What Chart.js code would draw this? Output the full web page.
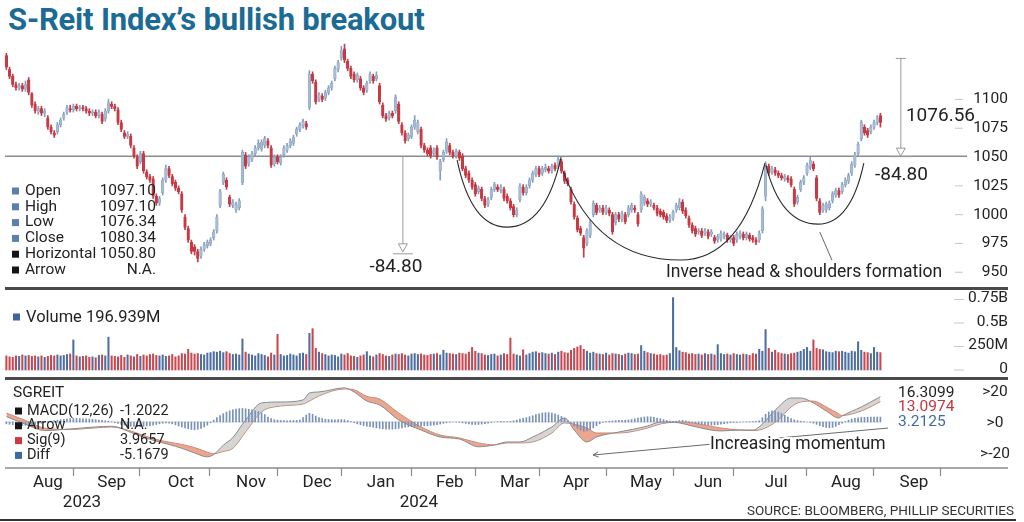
<!DOCTYPE html>
<html>
<head>
<meta charset="utf-8">
<title>S-Reit Index's bullish breakout</title>
<script src="https://cdn.jsdelivr.net/npm/chart.js@4.4.1/dist/chart.umd.min.js"></script>
<style>
  html, body { margin: 0; padding: 0; background: #fff; }
  body { width: 1024px; height: 522px; position: relative; overflow: hidden; font-family: Roboto, "Noto Sans", sans-serif; }
  canvas { position: absolute; left: 0; top: 0; }
  #title { position: absolute; left: 8px; top: 1px; font-weight: 700; font-size: 31px; color: #1b6b95; letter-spacing: -0.2px; white-space: nowrap; }
  #source { position: absolute; right: 10px; top: 502px; font-size: 13.5px; color: #333; white-space: nowrap; }
  .rule { position: absolute; left: 5px; width: 1003px; background: #4a4a4a; }
</style>
</head>
<body>
<div id="title">S-Reit Index’s bullish breakout</div>
<canvas id="priceChart" width="1024" height="522"></canvas>
<canvas id="volumeChart" width="1024" height="522"></canvas>
<canvas id="macdChart" width="1024" height="522"></canvas>
<div class="rule" style="top:287px;height:3px"></div>
<div class="rule" style="top:377px;height:3px"></div>
<div class="rule" style="top:519px;height:2px;left:0;width:1016px;background:#333"></div>
<div id="source">SOURCE: BLOOMBERG, PHILLIP SECURITIES</div>
<script>
// daily candles, trading day 0 = 1 Aug 2023
const opens = [
  1138,1126,1120,1113,1110,1112,1109,1117,1105,1096,
  1089,1092,1088,1084,1076,1071,1072,1078,1084,1089,
  1092,1091,1094,1092,1093,1092,1090,1088,1089,1086,
  1087,1083,1090,1096,1094,1091,1080,1071,1068,1068,
  1058,1050,1046,1053,1037,1033,1031,1016,1010,1019,
  1030,1040,1033,1028,1023,1018,998,988,976,972,
  968,964,970,973,975,980,986,1008,1028,1030,
  1015,1008,1004,1006,1028,1052,1044,1048,1053,1058,
  1057,1060,1064,1058,1044,1050,1045,1052,1056,1060,
  1062,1070,1074,1077,1079,1093,1122,1115,1100,1103,
  1101,1106,1110,1118,1126,1136,1144,1133,1127,1122,
  1117,1118,1110,1108,1116,1120,1118,1112,1095,1086,
  1084,1088,1090,1096,1078,1071,1066,1068,1076,1072,
  1074,1060,1056,1058,1053,1058,1038,1048,1055,1060,
  1054,1051,1054,1051,1040,1036,1030,1026,1020,1022,
  1014,1009,1015,1022,1024,1021,1022,1016,1012,1007,
  1000,1013,1024,1019,1025,1030,1035,1040,1036,1039,
  1040,1038,1043,1042,1046,1036,1030,1022,1009,997,
  988,980,975,982,1000,1008,1004,1006,1002,1004,
  1000,993,1000,996,1000,1000,1004,1006,1000,1004,
  1010,1012,1009,1008,1006,1003,1002,999,995,997,
  1004,1006,1011,1004,997,991,988,985,986,984,
  985,983,980,978,979,981,982,978,980,978,
  981,983,980,982,980,978,978,986,1016,1042,
  1037,1039,1036,1034,1031,1032,1031,1022,1011,1022,
  1028,1036,1041,1044,1032,1012,1004,1004,1006,1012,
  1017,1021,1020,1026,1029,1036,1043,1053,1066,1076,
  1073,1072,1076,1080,1086
];
const highs = [
  1140,1128,1122,1115,1114,1114,1116,1119,1106,1098,
  1094,1094,1092,1086,1078,1073,1080,1084,1089,1095,
  1095,1096,1096,1095,1095,1094,1092,1091,1091,1091,
  1089,1092,1100,1098,1096,1093,1082,1073,1072,1070,
  1060,1052,1055,1055,1039,1035,1033,1018,1016,1032,
  1043,1042,1035,1030,1025,1020,1000,990,978,974,
  970,972,976,978,980,987,1000,1022,1037,1032,
  1017,1013,1011,1014,1056,1054,1052,1055,1060,1065,
  1065,1068,1066,1060,1052,1052,1052,1060,1062,1066,
  1069,1076,1080,1083,1081,1125,1124,1117,1106,1105,
  1108,1112,1116,1129,1134,1146,1148,1135,1129,1124,
  1123,1120,1112,1116,1124,1122,1124,1114,1097,1088,
  1090,1090,1104,1098,1080,1073,1071,1078,1086,1082,
  1076,1062,1058,1060,1058,1060,1048,1056,1066,1062,
  1056,1057,1056,1053,1042,1038,1032,1028,1025,1024,
  1016,1015,1024,1028,1026,1026,1024,1018,1014,1009,
  1006,1027,1026,1026,1032,1038,1042,1042,1042,1044,
  1042,1044,1045,1051,1048,1038,1032,1024,1011,999,
  990,982,988,995,1012,1010,1008,1008,1008,1006,
  1002,1002,1002,1003,1002,1008,1010,1008,1002,1020,
  1017,1014,1013,1010,1008,1005,1004,1001,1000,1004,
  1010,1014,1013,1006,999,993,990,988,988,988,
  987,987,982,983,986,985,984,982,982,985,
  986,985,985,984,982,980,986,1007,1046,1044,
  1042,1041,1038,1036,1035,1034,1033,1024,1017,1030,
  1034,1045,1050,1046,1034,1014,1010,1011,1012,1020,
  1023,1023,1028,1032,1036,1046,1054,1063,1082,1078,
  1075,1078,1082,1086,1088
];
const lows = [
  1126,1118,1111,1108,1108,1107,1107,1104,1093,1088,
  1087,1086,1085,1074,1070,1067,1070,1076,1082,1087,
  1089,1089,1090,1090,1090,1088,1086,1086,1084,1084,
  1079,1081,1088,1092,1090,1078,1072,1066,1066,1058,
  1049,1040,1044,1036,1031,1028,1014,1008,1008,1017,
  1028,1032,1025,1021,1018,1002,987,976,966,965,
  959,962,968,971,973,978,984,1006,1026,1022,
  1007,1006,1002,1004,1026,1040,1042,1046,1051,1056,
  1055,1058,1058,1041,1042,1044,1043,1050,1054,1058,
  1060,1068,1072,1075,1074,1091,1114,1096,1098,1098,
  1099,1104,1108,1116,1124,1134,1132,1125,1118,1115,
  1115,1108,1104,1106,1114,1114,1116,1096,1084,1081,
  1082,1084,1088,1079,1069,1062,1064,1066,1074,1070,
  1058,1054,1051,1049,1051,1048,1030,1046,1053,1052,
  1049,1049,1047,1038,1032,1028,1022,1016,1018,1012,
  1006,1007,1013,1020,1020,1019,1012,1010,1004,998,
  998,1011,1017,1017,1023,1028,1033,1033,1034,1037,
  1036,1036,1038,1040,1036,1027,1025,1009,996,985,
  982,963,973,980,998,1000,1002,1000,1000,999,
  983,991,994,994,992,998,1002,1002,990,1002,
  1008,1007,1007,1004,999,998,996,993,993,995,
  1002,1004,1001,997,989,984,981,983,980,982,
  979,981,975,976,977,979,976,976,973,976,
  979,978,978,977,976,974,976,984,1012,1034,
  1035,1034,1032,1030,1029,1028,1024,1007,1009,1020,
  1026,1034,1039,1038,1012,1000,1002,1002,1004,1010,
  1015,1015,1018,1024,1027,1034,1041,1051,1064,1069,
  1067,1070,1074,1078,1076
];
const closes = [
  1128,1120,1113,1110,1112,1109,1113,1106,1095,1090,
  1092,1088,1090,1076,1072,1069,1078,1082,1087,1093,
  1091,1094,1092,1093,1092,1090,1088,1089,1086,1089,
  1081,1090,1097,1094,1092,1080,1074,1068,1070,1060,
  1051,1042,1053,1038,1033,1030,1016,1010,1014,1030,
  1040,1034,1027,1023,1020,1004,989,978,968,968,
  962,970,974,976,978,985,998,1020,1035,1024,
  1009,1011,1009,1012,1054,1042,1050,1053,1058,1062,
  1063,1066,1060,1043,1050,1046,1050,1058,1060,1064,
  1067,1074,1078,1081,1076,1122,1116,1098,1104,1100,
  1106,1110,1114,1127,1132,1142,1134,1127,1120,1117,
  1121,1110,1106,1114,1122,1116,1121,1098,1086,1083,
  1088,1086,1102,1081,1071,1064,1069,1076,1082,1080,
  1060,1056,1053,1051,1056,1050,1046,1054,1063,1054,
  1051,1055,1049,1040,1034,1030,1024,1018,1023,1014,
  1008,1013,1022,1026,1022,1024,1014,1012,1006,1000,
  1004,1025,1019,1024,1030,1036,1040,1035,1040,1041,
  1038,1042,1040,1048,1038,1029,1027,1011,998,987,
  984,971,986,993,1010,1002,1006,1002,1006,1001,
  985,1000,996,1001,994,1006,1008,1004,992,1018,
  1015,1009,1011,1006,1001,1000,998,995,998,1002,
  1008,1011,1003,999,991,986,983,986,982,986,
  981,985,977,981,984,983,978,980,975,983,
  984,980,983,979,978,976,984,1005,1044,1036,
  1040,1036,1034,1032,1033,1030,1026,1009,1015,1028,
  1032,1043,1047,1040,1014,1002,1008,1009,1010,1018,
  1021,1017,1026,1030,1034,1044,1052,1061,1080,1071,
  1069,1076,1080,1084,1080
];
// volume, millions of units
const volumes = [
  150,140,135,150,145,160,150,155,145,150,
  140,150,135,145,155,150,160,150,155,165,
  170,320,150,140,145,150,135,140,130,155,
  160,150,350,150,145,140,155,135,160,150,
  140,165,145,160,150,165,170,155,150,160,
  145,150,165,140,150,175,170,220,180,170,
  175,165,160,180,185,195,190,200,185,195,
  175,165,170,160,330,190,170,160,150,175,
  165,155,140,180,160,380,165,150,155,170,
  160,150,175,180,165,390,440,230,190,175,
  165,150,160,155,140,170,160,175,150,145,
  135,150,160,195,150,140,160,175,165,150,
  145,160,170,165,175,160,150,170,175,165,
  170,160,155,165,170,175,160,210,180,175,
  170,165,180,175,170,190,240,200,180,175,
  160,155,165,170,150,160,175,165,340,170,
  160,150,215,160,175,190,195,180,185,175,
  170,180,165,190,200,185,180,210,230,245,
  260,220,200,180,190,175,170,165,180,160,
  175,170,165,155,170,180,175,165,170,260,
  200,185,175,170,160,165,155,160,175,770,
  240,205,190,185,170,175,165,170,160,175,
  165,170,160,270,175,165,170,160,175,165,
  160,170,165,155,175,170,220,200,430,230,
  190,210,185,175,170,165,175,180,190,200,
  220,240,200,320,230,220,215,195,190,185,
  200,195,200,190,180,200,195,300,210,190,
  185,175,240,190,185
];
// MACD(12,26) and Sig(9), read at these trading days
const macdDays = [0,6,12,20,28,33,40,46,51,55,59,63,65,68,71,75,80,86,93,95,98,106,109,113,117,123,130,136,142,148,153,157,161,165,171,175,178,182,185,192,201,205,211,215,224,230,234,236,242,246,249,253,257,261,262,268,274];
const macdLine = [3.5,-1.5,-5.5,-4.5,-3.2,-2.8,-7.5,-11.8,-14.5,-17,-20,-22.5,-21,-15,-10,1.3,12.3,12.9,14.2,18.7,19.4,22,19.4,13.5,11,1.3,-5.2,-9.7,-11,-16,-14.8,-12.9,-12.9,-9.7,-3.2,2.6,-5.2,-12.9,-9.7,-6.5,-2.6,0,-0.6,-2.6,-5.8,-5.2,-5.2,-3.2,9.7,15.5,15.5,12.3,7.1,2.6,3.9,9.7,16.3];
const signalLine = [5.8,1,-4,-4.8,-3.8,-3.2,-6.5,-10.8,-13,-14.5,-16.5,-19.5,-20.5,-19,-17,-6.5,6.5,10.3,11.6,13.5,16.8,21.3,20.8,16.5,14.8,5.8,-3.2,-8.4,-10.3,-13.5,-14.8,-13.5,-13.5,-12.9,-7.1,-0.6,-1.3,-3.9,-7.1,-7.1,-3.9,-1.3,0,-0.6,-3.9,-5.2,-5.5,-5.2,1.3,9.7,12.9,13.5,9.7,5.2,4.2,7.1,13.1];
// daily Diff histogram
const diffHist = [
  -1.2,-1.5,-1.8,-2,-2.2,-2.3,-2.2,-2,-1.8,-1.6,-1.2,-0.8,
  -0.3,0.2,0.6,0.9,1.2,1.5,1.7,
  1.9,2.1,2.2,2.3,2.2,2.1,2,1.9,1.7,1.5,1.3,1,0.8,0.5,
  0.1,-0.4,-0.9,-1.5,-2,-2.4,-2.7,-2.9,-3,-3,-2.8,-2.6,-2.3,-2,-1.6,-1.2,
  -0.8,-0.6,-0.8,-1.2,-1.8,
  -2.6,-3.2,-3.8,-4.4,-4.8,-5,-4.7,-4.1,-3.2,-2,
  -0.5,1.2,2.8,4.2,5.4,6.4,7.2,7.8,8.3,8.6,8.7,8.5,8.2,7.8,7.3,6.7,6,4.8,3.2,
  2.2,1.5,1.2,1,0.9,0.8,0.9,1,1.1,1.3,
  2.8,4.5,5.6,5,3.8,
  2.8,2.2,1.8,1.6,1.5,1.4,1.5,1.6,1.4,0.9,
  0.2,-0.5,-1.2,-1.8,-2.3,-2.7,-3.1,-3.4,-3.8,-4.1,-4.4,-4.6,-4.7,-4.6,-4.4,-4.1,-3.8,-3.4,-3.1,
  -2.9,-2.8,-2.7,-2.6,-2.5,-2.4,-2.2,-2,-1.7,-1.3,-0.9,-0.5,
  -0.2,0,-0.1,-0.3,-0.6,
  -0.9,-1.2,-1.5,-1.6,-1.6,-1.4,-1.1,-0.7,-0.3,
  0,0.2,0.4,0.3,0.2,0.4,0.8,1.2,
  1.8,2.3,2.8,3.4,4,4.7,5.3,
  5.8,6,6.1,5.8,5.2,4.5,3.6,2.4,0.8,
  -1,-2.6,-4,-5.2,-6,-5.8,-5,-3.8,-2.4,-1.2,
  -0.3,0.2,0.5,0.7,0.9,1,1,1.1,1.3,
  1.6,2,2.5,2.9,3.2,3.4,3.3,3,2.6,2.1,1.5,1,
  0.6,0.4,0.6,0.9,1,0.7,0.2,
  -0.4,-0.9,-1.3,-1.6,-1.8,-1.9,-2,-1.9,-1.7,-1.4,-1.1,-0.8,
  -0.5,-0.3,-0.2,-0.1,0,0.1,0.2,0.3,0.4,0.8,
  2.8,5,6.5,7.2,7,6.4,5.5,4.4,3.2,
  2.2,1.4,0.9,0.5,0.2,0,-0.3,
  -0.8,-1.5,-2.3,-3,-3.5,-3.7,-3.5,-2.8,-1.8,-0.8,
  0.3,1.2,1.9,2.4,2.7,2.9,3,3.1,3.1,3.2,3.2,3.2
];

const priceTicks = [950, 975, 1000, 1025, 1050, 1075, 1100];
const volumeTicks = [0, 250, 500, 750];
const volumeTickLabels = ['0', '250M', '0.5B', '0.75B'];
const macdLevels = [20, 0, -20];
const macdLevelLabels = ['>20', '>0', '>-20'];
const monthBounds = [20.9, 41.6, 63.5, 84.8, 104.9, 126.8, 146.9, 167, 188, 209, 227.8, 250.7, 271.7, 292.7];
const monthNames = ['Aug', 'Sep', 'Oct', 'Nov', 'Dec', 'Jan', 'Feb', 'Mar', 'Apr', 'May', 'Jun', 'Jul', 'Aug', 'Sep'];
const monthMids = [13, 33, 54.7, 76.7, 97.4, 117.4, 139, 159.4, 178.6, 200.5, 220, 241.3, 263.2, 284.5];
const yearNames = ['2023', '2024'];
const yearMids = [23.7, 129.3];

const breakout = 1050.80;
const patternDepth = 84.80;
const priceLegend = ['Open', 'High', 'Low', 'Close', 'Horizontal', 'Arrow'];
const priceLegendValues = ['1097.10', '1097.10', '1076.34', '1080.34', '1050.80', 'N.A.'];
const macdLegend = ['MACD(12,26)', 'Arrow', 'Sig(9)', 'Diff'];
const macdLegendValues = ['-1.2022', 'N.A.', '3.9657', '-5.1679'];
const macdLast = ['16.3099', '13.0974', '3.2125'];

const UP = '#a7bcd2', UP_WICK = '#849fbe', DOWN = '#c63a44';
const VOL_UP = '#4d6fa0', VOL_DOWN = '#c9474e';
const FONT = 'Roboto, "Noto Sans", sans-serif';
const isUp = i => closes[i] >= opens[i];

function label(ctx, s, x, y, size, color, align) {
  ctx.font = size + 'px ' + FONT;
  ctx.fillStyle = color || '#222';
  ctx.textAlign = align || 'left';
  ctx.textBaseline = 'middle';
  ctx.fillText(s, x, y);
}

function square(ctx, x, y, color) {
  ctx.fillStyle = color;
  ctx.fillRect(x, y - 3.5, 7, 7);
}

// open triangle arrowhead pointing down
function downArrow(ctx, px, yTop, yBot) {
  ctx.beginPath();
  ctx.moveTo(px, yTop);
  ctx.lineTo(px, yBot - 8);
  ctx.stroke();
  ctx.beginPath();
  ctx.moveTo(px - 4.5, yBot - 8);
  ctx.lineTo(px + 4.5, yBot - 8);
  ctx.lineTo(px, yBot);
  ctx.closePath();
  ctx.fillStyle = '#fff';
  ctx.fill();
  ctx.stroke();
}

function uCurve(ctx, p0, b, p2) {
  ctx.beginPath();
  ctx.moveTo(p0.x, p0.y);
  ctx.bezierCurveTo(p0.x + (b.x - p0.x) * 0.2, p0.y + (b.y - p0.y) * 0.7, b.x - (b.x - p0.x) * 0.45, b.y, b.x, b.y);
  ctx.bezierCurveTo(b.x + (p2.x - b.x) * 0.45, b.y, p2.x - (p2.x - b.x) * 0.2, p2.y + (b.y - p2.y) * 0.7, p2.x, p2.y);
  ctx.stroke();
}

// inverse head & shoulders outline: start, bottom, end (trading day, price)
const hsArcs = [
  [[141.3, 1047.4], [156.9, 989.2], [173.9, 1050]],
  [[174.5, 1037.8], [211.2, 960.6], [237.8, 1044.8]],
  [[238.1, 1043.0], [254.4, 991.8], [268.8, 1044.8]]
];

const xAxis = { type: 'linear', min: -2, max: 314, offset: false, display: false };
const common = {
  responsive: false,
  animation: false,
  events: [],
  plugins: { legend: { display: false }, tooltip: { enabled: false } }
};

const priceExtras = {
  id: 'priceExtras',
  beforeDatasetsDraw(chart) {
    const { ctx, scales: { y } } = chart;
    const yb = y.getPixelForValue(breakout);
    ctx.save();
    ctx.strokeStyle = '#8c8c8c';
    ctx.lineWidth = 1.5;
    ctx.beginPath();
    ctx.moveTo(5, yb);
    ctx.lineTo(967, yb);
    ctx.stroke();
    ctx.restore();
  },
  afterDatasetsDraw(chart) {
    const { ctx, scales: { x, y } } = chart;
    const right = chart.chartArea.right;
    ctx.save();

    priceTicks.forEach(v => {
      const py = y.getPixelForValue(v);
      if (v !== 1050) {
        ctx.strokeStyle = '#c8c8c8';
        ctx.lineWidth = 1;
        ctx.beginPath();
        ctx.moveTo(955, py);
        ctx.lineTo(963, py);
        ctx.stroke();
      }
      label(ctx, String(v), right, py, 15.5, '#222', 'right');
    });

    // pattern outline
    ctx.strokeStyle = '#2a2a2a';
    ctx.lineWidth = 1.1;
    hsArcs.forEach(a => {
      const p = a.map(([d, v]) => ({ x: x.getPixelForValue(d), y: y.getPixelForValue(v) }));
      uCurve(ctx, p[0], p[1], p[2]);
    });

    // measured move arrows
    ctx.strokeStyle = '#9a9a9a';
    ctx.lineWidth = 1;
    const yb = y.getPixelForValue(breakout);
    const xl = x.getPixelForValue(124.3);
    const ylow = y.getPixelForValue(breakout - patternDepth);
    downArrow(ctx, xl, yb, ylow - 2);
    ctx.beginPath();
    ctx.moveTo(xl - 10, ylow);
    ctx.lineTo(xl + 10, ylow);
    ctx.stroke();
    label(ctx, '-' + patternDepth.toFixed(2), x.getPixelForValue(122.1), y.getPixelForValue(954.5), 19, '#222', 'center');

    const xr = x.getPixelForValue(280.4);
    const ytop = y.getPixelForValue(breakout + patternDepth);
    ctx.beginPath();
    ctx.moveTo(xr - 5, ytop);
    ctx.lineTo(xr + 5, ytop);
    ctx.stroke();
    downArrow(ctx, xr, ytop, yb);
    ctx.beginPath();
    ctx.moveTo(xr - 11, yb + 0.5);
    ctx.lineTo(xr + 11, yb + 0.5);
    ctx.stroke();
    label(ctx, '1076.56', x.getPixelForValue(282), y.getPixelForValue(1085.6), 19, '#222', 'left');
    label(ctx, '-' + patternDepth.toFixed(2), x.getPixelForValue(272.3), y.getPixelForValue(1034.4), 19, '#222', 'left');

    // pattern caption and pointer
    ctx.strokeStyle = '#666';
    ctx.beginPath();
    ctx.moveTo(x.getPixelForValue(258.8), y.getPixelForValue(960.6));
    ctx.lineTo(x.getPixelForValue(255), y.getPixelForValue(984.9));
    ctx.stroke();
    label(ctx, 'Inverse head & shoulders formation', x.getPixelForValue(206.8), y.getPixelForValue(949.3), 17.5, '#222', 'left');

    // legend
    priceLegend.forEach((name, k) => {
      const ly = 191 + k * 15.8;
      square(ctx, 12, ly, k < 4 ? '#5b80ad' : '#151515');
      label(ctx, name, 25, ly, 15.5, '#222', 'left');
      label(ctx, priceLegendValues[k], 156, ly, 15.5, '#222', 'right');
    });
    ctx.restore();
  }
};

new Chart(document.getElementById('priceChart'), {
  type: 'bar',
  data: {
    datasets: [
      {
        label: 'High-Low',
        data: opens.map((_, i) => ({ x: i, y: [lows[i], highs[i]] })),
        backgroundColor: c => isUp(c.dataIndex) ? UP_WICK : DOWN,
        barThickness: 1,
        grouped: false,
        order: 2
      },
      {
        label: 'Open-Close',
        data: opens.map((o, i) => ({ x: i, y: [o, closes[i]] })),
        backgroundColor: c => isUp(c.dataIndex) ? UP : DOWN,
        borderColor: c => isUp(c.dataIndex) ? UP_WICK : DOWN,
        borderWidth: 0.5,
        borderSkipped: false,
        barThickness: 2.6,
        minBarLength: 1,
        grouped: false,
        order: 1
      }
    ]
  },
  options: {
    ...common,
    layout: { padding: { left: 0, right: 16, top: 40, bottom: 235 } },
    scales: {
      x: xAxis,
      y: { type: 'linear', min: 937.2, max: 1151.6, display: false }
    }
  },
  plugins: [priceExtras]
});

const volumeExtras = {
  id: 'volumeExtras',
  afterDatasetsDraw(chart) {
    const { ctx, scales: { y } } = chart;
    const right = chart.chartArea.right;
    ctx.save();
    volumeTicks.forEach((v, k) => {
      const py = y.getPixelForValue(v);
      ctx.strokeStyle = '#c8c8c8';
      ctx.lineWidth = 1;
      ctx.beginPath();
      ctx.moveTo(954, py);
      ctx.lineTo(964, py);
      ctx.stroke();
      label(ctx, volumeTickLabels[k], right, py - 1, 15.5, '#222', 'right');
    });
    square(ctx, 13, 317, '#3f64a0');
    label(ctx, 'Volume 196.939M', 26, 318, 16.5, '#222', 'left');
    ctx.restore();
  }
};

new Chart(document.getElementById('volumeChart'), {
  type: 'bar',
  data: {
    datasets: [{
      label: 'Volume',
      data: volumes.map((v, i) => ({ x: i, y: v })),
      backgroundColor: c => isUp(c.dataIndex) ? VOL_UP : VOL_DOWN,
      barThickness: 1.4
    }]
  },
  options: {
    ...common,
    layout: { padding: { left: 0, right: 16, top: 290, bottom: 145 } },
    scales: {
      x: xAxis,
      y: { type: 'linear', min: -74.5, max: 851, display: false }
    }
  },
  plugins: [volumeExtras]
});

const macdExtras = {
  id: 'macdExtras',
  beforeDatasetsDraw(chart) {
    const { ctx, scales: { y } } = chart;
    const y0 = y.getPixelForValue(0);
    ctx.save();
    ctx.strokeStyle = '#dadada';
    ctx.lineWidth = 1;
    ctx.beginPath();
    ctx.moveTo(5, y0);
    ctx.lineTo(880, y0);
    ctx.stroke();
    ctx.restore();
  },
  afterDatasetsDraw(chart) {
    const { ctx, scales: { x, y } } = chart;
    const area = chart.chartArea;
    ctx.save();

    // legend
    label(ctx, 'SGREIT', 13, 393, 15.5, '#222', 'left');
    const sq = ['#151515', '#151515', '#d0393f', '#3a69a8'];
    macdLegend.forEach((name, k) => {
      const ly = 411 + k * 14.8;
      square(ctx, 15, ly, sq[k]);
      label(ctx, name, 27, ly, 14.5, '#222', 'left');
      label(ctx, macdLegendValues[k], 120, ly, 14.5, '#222', 'left');
    });

    // last values
    const lastCol = ['#222', '#c0363f', '#3f6aa5'];
    macdLast.forEach((s, k) => label(ctx, s, 898, 393 + k * 14.5, 15.5, lastCol[k], 'left'));
    macdLevels.forEach((v, k) => label(ctx, macdLevelLabels[k], 995, y.getPixelForValue(v) + 1, 15.5, '#222', 'center'));

    // momentum arrow
    const ax1 = x.getPixelForValue(276.4), ay1 = y.getPixelForValue(-3.9);
    const ax2 = x.getPixelForValue(183.9), ay2 = y.getPixelForValue(-21.3);
    ctx.strokeStyle = '#6a6a6a';
    ctx.lineWidth = 1;
    ctx.beginPath();
    ctx.moveTo(ax1, ay1);
    ctx.lineTo(ax2, ay2);
    ctx.stroke();
    const ang = Math.atan2(ay1 - ay2, ax1 - ax2);
    ctx.beginPath();
    ctx.moveTo(ax2 + 6 * Math.cos(ang - 0.45), ay2 + 6 * Math.sin(ang - 0.45));
    ctx.lineTo(ax2, ay2);
    ctx.lineTo(ax2 + 6 * Math.cos(ang + 0.45), ay2 + 6 * Math.sin(ang + 0.45));
    ctx.stroke();
    ctx.font = '17.5px ' + FONT;
    ctx.textAlign = 'left';
    ctx.textBaseline = 'middle';
    ctx.lineWidth = 4;
    ctx.strokeStyle = '#fff';
    const tx = x.getPixelForValue(220.6), ty = y.getPixelForValue(-14.8);
    ctx.strokeText('Increasing momentum', tx, ty);
    label(ctx, 'Increasing momentum', tx, ty, 17.5, '#222', 'left');

    // time axis
    const base = area.bottom;
    ctx.strokeStyle = '#8a8a8a';
    ctx.lineWidth = 1.5;
    ctx.beginPath();
    ctx.moveTo(5, base);
    ctx.lineTo(area.right, base);
    ctx.stroke();
    ctx.lineWidth = 1.2;
    monthBounds.forEach(d => {
      const px = Math.round(x.getPixelForValue(d)) + 0.5;
      ctx.beginPath();
      ctx.moveTo(px, base);
      ctx.lineTo(px, base + 8);
      ctx.stroke();
    });
    monthNames.forEach((m, k) => label(ctx, m, x.getPixelForValue(monthMids[k]), base + 15, 17, '#222', 'center'));
    yearNames.forEach((yr, k) => label(ctx, yr, x.getPixelForValue(yearMids[k]), base + 35, 17, '#222', 'center'));
    ctx.restore();
  }
};

new Chart(document.getElementById('macdChart'), {
  type: 'bar',
  data: {
    datasets: [
      {
        label: 'Diff',
        data: diffHist.map((v, i) => ({ x: i, y: v })),
        backgroundColor: '#7891b8',
        barThickness: 1,
        order: 0
      },
      {
        type: 'line',
        label: 'MACD(12,26)',
        data: macdDays.map((d, k) => ({ x: d, y: macdLine[k] })),
        borderColor: '#8a8a8a',
        borderWidth: 1,
        pointRadius: 0,
        cubicInterpolationMode: 'monotone',
        fill: { target: '+1', above: 'rgba(185,185,185,0.6)', below: 'rgba(226,128,96,0.7)' },
        order: 1
      },
      {
        type: 'line',
        label: 'Sig(9)',
        data: macdDays.map((d, k) => ({ x: d, y: signalLine[k] })),
        borderColor: '#c58672',
        borderWidth: 1,
        pointRadius: 0,
        cubicInterpolationMode: 'monotone',
        fill: false,
        order: 2
      }
    ]
  },
  options: {
    ...common,
    layout: { padding: { left: 0, right: 16, top: 380, bottom: 54 } },
    scales: {
      x: xAxis,
      y: { type: 'linear', min: -29.7, max: 27.1, display: false }
    }
  },
  plugins: [macdExtras]
});
</script>
</body>
</html>
